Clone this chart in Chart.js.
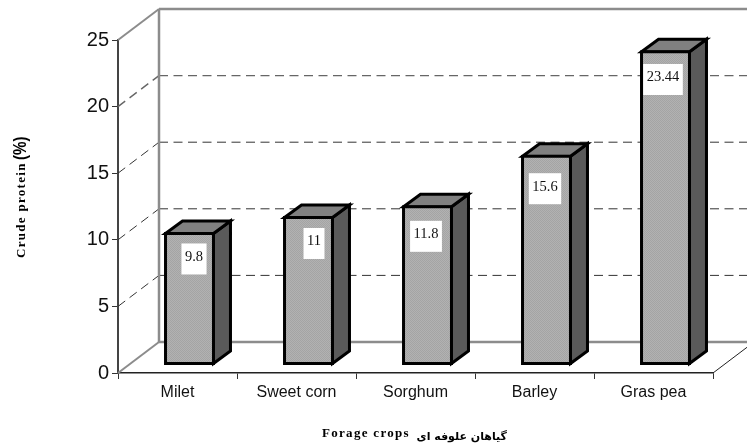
<!DOCTYPE html>
<html>
<head>
<meta charset="utf-8">
<style>html,body{margin:0;padding:0;background:#fff;overflow:hidden}canvas{display:block}</style>
<script src="https://cdn.jsdelivr.net/npm/chart.js@4"></script>
</head>
<body>
<canvas id="c" width="747" height="444"></canvas>
<script>
const categories = ['Milet', 'Sweet corn', 'Sorghum', 'Barley', 'Gras pea'];
const proteinValues = [9.8, 11, 11.8, 15.6, 23.44];
const valueLabels = ['9.8', '11', '11.8', '15.6', '23.44'];
const yTicks = [0, 5, 10, 15, 20, 25];
const yTitle = 'Crude protein ';
const yTitleUnit = '(%)';
const xTitle = 'Forage crops';
const xTitleFa = 'گیاهان علوفه ای';

// Dithered grey of the bars' front face
const tile = document.createElement('canvas');
tile.width = 2; tile.height = 2;
const tc = tile.getContext('2d');
tc.fillStyle = '#a4a4a4'; tc.fillRect(0, 0, 2, 2);
tc.fillStyle = '#b2b2b2'; tc.fillRect(0, 0, 1, 1); tc.fillRect(1, 1, 1, 1);
const frontFill = tc.createPattern(tile, 'repeat');

const WALL = {dx: 41, dy: -31};      // floor depth
const BAR_AT = {dx: 12, dy: -9};     // bars stand part-way into the floor
const BAR_DEPTH = {dx: 17, dy: -12.5};
const LABEL_NUDGE = [[4.5, 25.5], [5.5, 26], [-1.5, 29.5], [-1.5, 32.5], [-2.5, 27.7]];

function line(ctx, x1, y1, x2, y2) {
  ctx.beginPath(); ctx.moveTo(x1, y1); ctx.lineTo(x2, y2); ctx.stroke();
}

const pseudo3d = {
  id: 'pseudo3d',
  beforeDatasetsDraw(chart) {
    const {ctx, chartArea: a, scales: {y}, width} = chart;
    ctx.save();
    // dashed grid: on the floor side and along the back wall
    ctx.setLineDash([9, 5.5]);
    yTicks.forEach(v => {
      if (v === yTicks[0] || v === yTicks[yTicks.length - 1]) return;
      const p = y.getPixelForValue(v);
      ctx.strokeStyle = v === 20 ? '#666' : '#333';
      ctx.lineWidth = v === 20 ? 1.4 : 1;
      line(ctx, a.left, p, a.left + WALL.dx, p + WALL.dy);
      line(ctx, a.left + WALL.dx, p + WALL.dy, width, p + WALL.dy);
    });
    ctx.setLineDash([]);
    // wall outline
    const y0 = y.getPixelForValue(0), yT = y.getPixelForValue(25);
    const bx = a.left + WALL.dx;
    ctx.strokeStyle = '#8c8c8c';
    ctx.lineWidth = 2.5;
    line(ctx, bx, yT + WALL.dy, width, yT + WALL.dy);
    line(ctx, bx, y0 + WALL.dy, width, y0 + WALL.dy);
    line(ctx, bx, yT + WALL.dy, bx, y0 + WALL.dy);
    ctx.lineWidth = 2;
    line(ctx, a.left, yT, bx, yT + WALL.dy);
    line(ctx, a.left, y0, bx, y0 + WALL.dy);
    ctx.strokeStyle = '#222';
    ctx.lineWidth = 1;
    line(ctx, a.right, y0, a.right + WALL.dx, y0 + WALL.dy);

    // bars: shift, and draw side and top faces first
    ctx.translate(BAR_AT.dx, BAR_AT.dy);
    ctx.lineWidth = 3;
    ctx.strokeStyle = '#000';
    chart.getDatasetMeta(0).data.forEach(el => {
      const r = el.x + el.width / 2, l = el.x - el.width / 2;
      const t = el.y, b = el.base;
      ctx.fillStyle = '#5a5a5a';
      ctx.beginPath();
      ctx.moveTo(r, t); ctx.lineTo(r + BAR_DEPTH.dx, t + BAR_DEPTH.dy);
      ctx.lineTo(r + BAR_DEPTH.dx, b + BAR_DEPTH.dy); ctx.lineTo(r, b);
      ctx.closePath(); ctx.fill(); ctx.stroke();
      ctx.fillStyle = '#808080';
      ctx.beginPath();
      ctx.moveTo(l, t); ctx.lineTo(l + BAR_DEPTH.dx, t + BAR_DEPTH.dy);
      ctx.lineTo(r + BAR_DEPTH.dx, t + BAR_DEPTH.dy); ctx.lineTo(r, t);
      ctx.closePath(); ctx.fill(); ctx.stroke();
    });
  },
  afterDatasetsDraw(chart) {
    const {ctx} = chart;
    ctx.restore();
    ctx.save();
    // value labels on white boxes
    ctx.font = '14.5px "Liberation Serif"';
    ctx.textAlign = 'center';
    ctx.textBaseline = 'middle';
    chart.getDatasetMeta(0).data.forEach((el, i) => {
      const cx = el.x + BAR_AT.dx + LABEL_NUDGE[i][0];
      const cy = el.y + BAR_AT.dy + LABEL_NUDGE[i][1];
      const w = ctx.measureText(valueLabels[i]).width + 7;
      ctx.fillStyle = '#fff';
      ctx.fillRect(cx - w / 2, cy - 15.5, w, 31);
      ctx.fillStyle = '#111';
      ctx.fillText(valueLabels[i], cx, cy - 2);
    });
    ctx.restore();
    // axis titles
    ctx.save();
    ctx.fillStyle = '#000';
    ctx.textBaseline = 'alphabetic';
    ctx.textAlign = 'left';
    ctx.font = 'bold 13px "Liberation Serif"';
    ctx.letterSpacing = '1.3px';
    ctx.fillText(xTitle, 322, 437);
    ctx.letterSpacing = '0px';
    ctx.font = 'bold 11px "DejaVu Sans"';
    ctx.direction = 'rtl';
    ctx.textAlign = 'right';
    ctx.fillText(xTitleFa, 507, 440);
    ctx.direction = 'ltr';
    ctx.textAlign = 'left';
    ctx.translate(25, 258);
    ctx.rotate(-Math.PI / 2);
    ctx.font = 'bold 13px "Liberation Serif"';
    ctx.letterSpacing = '1.3px';
    ctx.fillText(yTitle, 0, 0);
    ctx.letterSpacing = '0px';
    ctx.translate(98, 1);
    ctx.scale(0.8, 1);
    ctx.font = 'bold 19px "Liberation Sans"';
    ctx.fillText(yTitleUnit, 0, 0);
    ctx.restore();
  }
};

new Chart(document.getElementById('c'), {
  type: 'bar',
  data: {
    labels: categories,
    datasets: [{
      data: proteinValues,
      backgroundColor: frontFill,
      borderColor: '#000',
      borderWidth: 3,
      borderSkipped: false,
      inflateAmount: 1.5,
      barPercentage: 0.403,
      categoryPercentage: 1,
      clip: false
    }]
  },
  options: {
    responsive: false,
    animation: false,
    layout: {padding: {top: 40, right: 34, left: 0, bottom: 0}},
    plugins: {legend: {display: false}, tooltip: {enabled: false}},
    scales: {
      x: {
        afterFit(s) { s.height = 71; },
        grid: {offset: true, drawOnChartArea: false, drawTicks: true, tickLength: 6, color: '#333'},
        border: {display: true, color: '#222', width: 1.5},
        ticks: {color: '#111', padding: 4, maxRotation: 0, font: {family: '"Liberation Sans"', size: 16}}
      },
      y: {
        min: 0,
        max: 25,
        afterFit(s) { s.width = 118; },
        afterBuildTicks(s) { s.ticks = yTicks.map(v => ({value: v})); },
        grid: {drawOnChartArea: false, drawTicks: true, tickLength: 6, color: '#333'},
        border: {display: true, color: '#444', width: 2},
        ticks: {color: '#111', padding: 3, font: {family: '"Liberation Sans"', size: 20}}
      }
    }
  },
  plugins: [pseudo3d]
});
</script>
</body>
</html>
